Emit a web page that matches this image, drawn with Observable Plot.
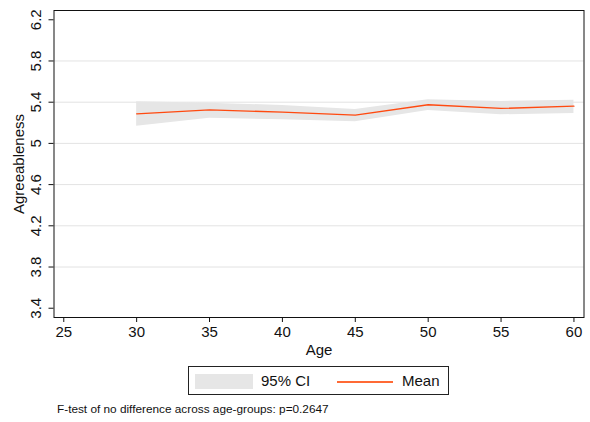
<!DOCTYPE html>
<html>
<head>
<meta charset="utf-8">
<script src="https://cdn.jsdelivr.net/npm/d3@7"></script>
<script src="https://cdn.jsdelivr.net/npm/@observablehq/plot@0.6"></script>
<style>
  body { margin: 0; background: #fff; font-family: "Liberation Sans", Arial, Helvetica, sans-serif; }
  #wrap { position: relative; width: 590px; height: 422px; background: #fff; }
  #legend { position: absolute; left: 188px; top: 366px; width: 259px; height: 27px; border: 1px solid #222; box-sizing: content-box; font-size: 15px; color: #111; }
  #legend .sw { position: absolute; left: 6px; top: 7px; width: 58px; height: 15px; background: #e6e6e6; }
  #legend .t1 { position: absolute; left: 72px; top: 5px; }
  #legend .ln { position: absolute; left: 148px; top: 14px; width: 56px; height: 2px; background: #ff6a35; }
  #legend .t2 { position: absolute; left: 213px; top: 5px; }
  #caption { position: absolute; left: 57px; top: 402px; font-size: 11.8px; color: #111; }
</style>
</head>
<body>
<div id="wrap">
  <div id="chart"></div>
  <div id="legend"><div class="sw"></div><span class="t1">95% CI</span><div class="ln"></div><span class="t2">Mean</span></div>
  <div id="caption">F-test of no difference across age-groups: p=0.2647</div>
</div>
<script>
const ages = [30, 35, 40, 45, 50, 55, 60];
const meanVals = [5.287, 5.326, 5.303, 5.274, 5.375, 5.339, 5.361];
const ciLow = [5.167, 5.245, 5.229, 5.210, 5.319, 5.278, 5.290];
const ciHigh = [5.404, 5.390, 5.368, 5.330, 5.423, 5.407, 5.420];
const xTicks = [25, 30, 35, 40, 45, 50, 55, 60];
const yTicks = [3.4, 3.8, 4.2, 4.6, 5.0, 5.4, 5.8, 6.2];
const gridVals = [3.8, 4.2, 4.6, 5.0, 5.4, 5.8];

const data = ages.map((a, i) => ({age: a, mean: meanVals[i], lo: ciLow[i], hi: ciHigh[i]}));

const chart = Plot.plot({
  width: 590,
  height: 362,
  marginTop: 10,
  marginBottom: 45,
  marginLeft: 53.5,
  marginRight: 6.5,
  style: {fontFamily: "'Liberation Sans', Arial, Helvetica, sans-serif", fontSize: "15px", color: "#111", background: "#fff"},
  x: {domain: [24.33, 60.69], label: null},
  y: {domain: [3.31, 6.29], label: null},
  marks: [
    Plot.gridY(gridVals, {stroke: "#e3e3e3", strokeOpacity: 1, strokeWidth: 1}),
    Plot.areaY(data, {x: "age", y1: "lo", y2: "hi", fill: "#e6e6e6", fillOpacity: 1}),
    Plot.lineY(data, {x: "age", y: "mean", stroke: "#ff4a10", strokeWidth: 1.3}),
    Plot.frame({stroke: "#111", strokeWidth: 1}),
    Plot.axisX({ticks: xTicks, tickSize: 5, tickPadding: 4, tickFormat: d => String(d), label: null, fontSize: 15}),
    Plot.axisY({ticks: yTicks, tickSize: 5, tickPadding: 8, tickRotate: -90, tickFormat: d => d3.format("")(+d.toFixed(1)), label: null, fontSize: 15}),
    Plot.text(["Age"], {frameAnchor: "bottom", text: d => d, dy: 33, lineAnchor: "middle", fontSize: 15}),
    Plot.text(["Agreeableness"], {frameAnchor: "left", text: d => d, rotate: -90, dx: -34.5, lineAnchor: "middle", textAnchor: "middle", fontSize: 15})
  ]
});
document.getElementById("chart").appendChild(chart);
</script>
</body>
</html>
